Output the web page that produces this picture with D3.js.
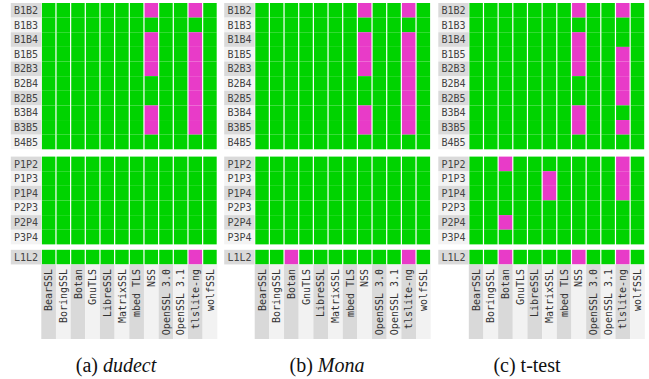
<!DOCTYPE html>
<html><head><meta charset="utf-8">
<script src="https://cdn.jsdelivr.net/npm/d3@7"></script>
<style>body{margin:0;background:#fff}svg{display:block}</style>
</head><body>
<script>
// ---- data ----
const columns = ["BearSSL","BoringSSL","Botan","GnuTLS","LibreSSL","MatrixSSL","mbed TLS","NSS","OpenSSL 3.0","OpenSSL 3.1","tlslite-ng","wolfSSL"];
const bRows = ["B1B2","B1B3","B1B4","B1B5","B2B3","B2B4","B2B5","B3B4","B3B5","B4B5"];
const pRows = ["P1P2","P1P3","P1P4","P2P3","P2P4","P3P4"];
const lRows = ["L1L2"];
const panelNames = ["dudect","Mona","t-test"];
const captionPrefix = ["(a)","(b)","(c)"];
const captionItalic = [true,true,false];
// 1 = leak detected (pink), 0 = no leak (green)
const dudectB = ["000000010010","000000000000","000000010010","000000010010","000000010010","000000000010","000000000010","000000010010","000000010010","000000000000"];
const dudectP = ["000000000000","000000000000","000000000000","000000000000","000000000000","000000000000"];
const dudectL = ["000000000010"];
const monaB = ["000000010010","000000000000","000000010010","000000010010","000000010010","000000000010","000000000010","000000010010","000000010010","000000000000"];
const monaP = ["000000000000","000000000000","000000000000","000000000000","000000000000","000000000000"];
const monaL = ["001000000010"];
const ttestB = ["000000010010","000000000000","000000010000","000000010010","000000010010","000000000010","000000000010","000000010000","000000010010","000000000000"];
const ttestP = ["001000000010","000001000010","000001000010","000000000000","001000000000","000000000000"];
const ttestL = ["001000010010"];

const panelData = [
  {B: dudectB, P: dudectP, L: dudectL},
  {B: monaB, P: monaP, L: monaL},
  {B: ttestB, P: ttestP, L: ttestL}
];

// ---- layout ----
const W = 649, H = 379;
const green = "#00d300", pink = "#e83bc8";
const rowH = 14.63;
const gridW = 176;
const labelW = 30.5;
const panelLeft = [10.8, 224.2, 438.3];
const captionX = [116, 327, 527];
const sections = [
  {key: "B", rows: bRows, y0: 3.0},
  {key: "P", rows: pRows, y0: 156.6},
  {key: "L", rows: lRows, y0: 249.8}
];
const colLabelTop = sections[2].y0 + rowH;
const colLabelBottom = 339;

const svg = d3.select("body").append("svg").attr("width", W).attr("height", H);

panelData.forEach((pd, pi) => {
  const g = svg.append("g");
  const gx0 = panelLeft[pi] + labelW;
  const x = d3.scaleBand().domain(columns).range([gx0, gx0 + gridW]).padding(0);

  sections.forEach(sec => {
    const y = d3.scaleBand().domain(sec.rows).range([sec.y0, sec.y0 + rowH * sec.rows.length]).padding(0);
    // row label backgrounds
    g.selectAll(null).data(sec.rows).enter().append("rect")
      .attr("x", panelLeft[pi]).attr("y", d => y(d))
      .attr("width", labelW).attr("height", y.bandwidth())
      .attr("fill", (d, i) => i % 2 === 0 ? "#dadada" : "#f3f3f3");
    g.selectAll(null).data(sec.rows).enter().append("text")
      .attr("x", panelLeft[pi] + labelW / 2).attr("y", d => y(d) + y.bandwidth() / 2)
      .attr("dy", "0.36em").attr("text-anchor", "middle")
      .attr("font-family", "DejaVu Sans Mono").attr("font-size", 10)
      .attr("fill", "#444").text(d => d);
    // cells
    const cells = [];
    sec.rows.forEach((r, ri) => {
      columns.forEach((c, ci) => cells.push({r, c, v: +pd[sec.key][ri][ci]}));
    });
    g.selectAll(null).data(cells).enter().append("rect")
      .attr("x", d => x(d.c) + 0.6).attr("y", d => y(d.r))
      .attr("width", x.bandwidth() - 1.2).attr("height", y.bandwidth())
      .attr("fill", d => d.v ? pink : green);
  });

  // column label backgrounds
  g.selectAll(null).data(columns).enter().append("rect")
    .attr("x", d => x(d)).attr("y", colLabelTop)
    .attr("width", x.bandwidth()).attr("height", colLabelBottom - colLabelTop)
    .attr("fill", (d, i) => i % 2 === 0 ? "#d9d9d9" : "#f2f2f2");
  g.selectAll(null).data(columns).enter().append("text")
    .attr("transform", d => `translate(${x(d) + x.bandwidth() / 2},${colLabelTop + 4.5}) rotate(-90)`)
    .attr("dy", "0.36em").attr("text-anchor", "end")
    .attr("font-family", "DejaVu Sans Mono").attr("font-size", 10)
    .attr("fill", "#333").text(d => d);

  // caption
  const cap = svg.append("text")
    .attr("x", captionX[pi]).attr("y", 371.5)
    .attr("text-anchor", "middle")
    .attr("font-family", "Liberation Serif").attr("font-size", 20).attr("fill", "#111");
  cap.append("tspan").text(captionPrefix[pi] + " ");
  cap.append("tspan").attr("font-style", captionItalic[pi] ? "italic" : "normal").text(panelNames[pi]);
});
</script>
</body></html>
